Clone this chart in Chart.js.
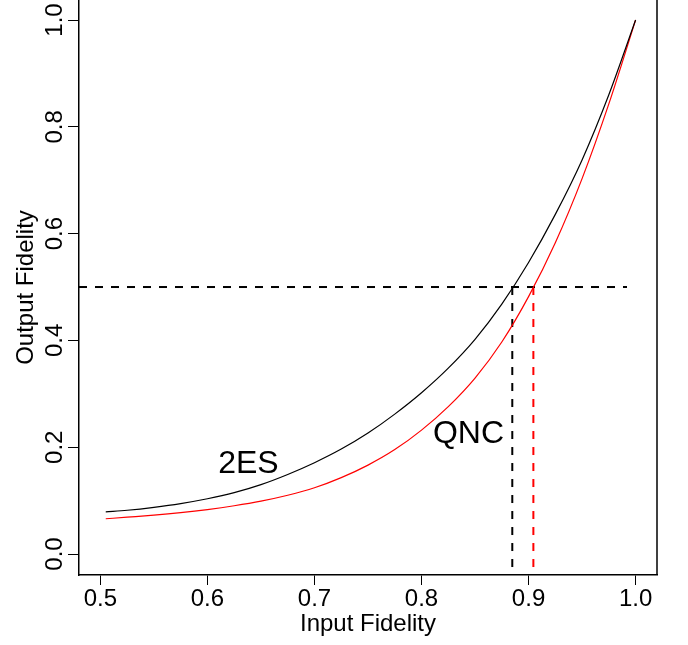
<!DOCTYPE html>
<html>
<head>
<meta charset="utf-8">
<script src="https://cdn.jsdelivr.net/npm/chart.js@4/dist/chart.umd.min.js"></script>
<style>
  html, body { margin: 0; padding: 0; background: #fff; }
  #wrap { position: relative; width: 688px; height: 645px; }
</style>
</head>
<body>
<div id="wrap"><canvas id="fidelityChart" width="688" height="645"></canvas></div>
<script>
// -----------------------------------------
// DATA
// -----------------------------------------
const inputFid = [0.505, 0.525, 0.55, 0.575, 0.6, 0.625, 0.65, 0.675, 0.7, 0.725, 0.75,
                  0.775, 0.8, 0.825, 0.85, 0.875, 0.9, 0.925, 0.95, 0.975, 1.0];
const out2ES   = [0.079, 0.082, 0.0875, 0.0945, 0.1035, 0.115, 0.130, 0.149, 0.171, 0.1965, 0.2266,
                  0.262, 0.302, 0.348, 0.402, 0.468, 0.546, 0.636, 0.738, 0.860, 1.0];
const outQNC   = [0.066, 0.069, 0.0728, 0.0775, 0.0833, 0.0904, 0.099, 0.110, 0.124, 0.143, 0.1665,
                  0.1955, 0.232, 0.276, 0.3295, 0.397, 0.482, 0.583, 0.703, 0.843, 1.0];

// threshold guides
const thresholdY   = 0.5;
const thresholdX   = [0.48, 0.992];
const cross2ES     = 0.8848;
const crossQNC     = 0.9045;

const xTicks = [0.5, 0.6, 0.7, 0.8, 0.9, 1.0];
const yTicks = [0.0, 0.2, 0.4, 0.6, 0.8, 1.0];

const curveLabels = [
  { text: '2ES', x: 0.6383, y: 0.1517 },
  { text: 'QNC', x: 0.8439, y: 0.2079 }
];

const FONT = '"Liberation Sans", Arial, Helvetica, sans-serif';

// -----------------------------------------
// helpers
// -----------------------------------------
const toPts = (xs, ys) => xs.map((x, i) => ({ x, y: ys[i] }));

// -----------------------------------------
// PLUGIN: box, rotated y labels, axis titles, curve labels
// -----------------------------------------
const rStylePlugin = {
  id: 'rStyle',
  afterDraw(chart) {
    const { ctx, chartArea, scales } = chart;
    const xs = scales.x, ys = scales.y;
    ctx.save();

    // right edge of the box
    ctx.strokeStyle = '#000';
    ctx.lineWidth = 1.5;
    ctx.beginPath();
    ctx.moveTo(chartArea.right, chartArea.top);
    ctx.lineTo(chartArea.right, chartArea.bottom);
    ctx.stroke();

    ctx.fillStyle = '#000';

    // y tick labels, parallel to the axis
    ctx.font = '24px ' + FONT;
    ctx.textAlign = 'center';
    ctx.textBaseline = 'alphabetic';
    yTicks.forEach(v => {
      ctx.save();
      ctx.translate(62, ys.getPixelForValue(v));
      ctx.rotate(-Math.PI / 2);
      ctx.fillText(v.toFixed(1), 0, 0);
      ctx.restore();
    });

    // axis titles
    ctx.fillText('Input Fidelity', (chartArea.left + chartArea.right) / 2, 631);
    ctx.save();
    ctx.translate(33, (chartArea.top + chartArea.bottom) / 2);
    ctx.rotate(-Math.PI / 2);
    ctx.fillText('Output Fidelity', 0, 0);
    ctx.restore();

    // curve labels
    ctx.font = '32px ' + FONT;
    curveLabels.forEach(l => {
      ctx.fillText(l.text, xs.getPixelForValue(l.x), ys.getPixelForValue(l.y));
    });

    ctx.restore();
  }
};

// -----------------------------------------
// CHART
// -----------------------------------------
const dashStyle = { borderWidth: 2, borderDash: [8, 8], pointRadius: 0, fill: false };

new Chart(document.getElementById('fidelityChart'), {
  type: 'line',
  data: {
    datasets: [
      {
        label: '2ES',
        data: toPts(inputFid, out2ES),
        borderColor: '#000',
        borderWidth: 1.2,
        pointRadius: 0,
        cubicInterpolationMode: 'monotone'
      },
      {
        label: 'QNC',
        data: toPts(inputFid, outQNC),
        borderColor: '#ff0000',
        borderWidth: 1.2,
        pointRadius: 0,
        cubicInterpolationMode: 'monotone'
      },
      Object.assign({
        label: 'threshold',
        data: [{ x: thresholdX[0], y: thresholdY }, { x: thresholdX[1], y: thresholdY }],
        borderColor: '#000'
      }, dashStyle),
      Object.assign({
        label: '2ES cross',
        data: [{ x: cross2ES, y: thresholdY }, { x: cross2ES, y: -0.04 }],
        borderColor: '#000'
      }, dashStyle),
      Object.assign({
        label: 'QNC cross',
        data: [{ x: crossQNC, y: thresholdY }, { x: crossQNC, y: -0.04 }],
        borderColor: '#ff0000'
      }, dashStyle)
    ]
  },
  options: {
    responsive: false,
    animation: false,
    layout: { padding: { top: 0, right: 31, bottom: 0, left: 0 } },
    plugins: {
      legend: { display: false },
      tooltip: { enabled: false }
    },
    scales: {
      x: {
        type: 'linear',
        min: 0.48,
        max: 1.02,
        afterBuildTicks: axis => { axis.ticks = xTicks.map(v => ({ value: v })); },
        afterFit: axis => { axis.height = 70; },
        border: { display: true, color: '#000', width: 1.5 },
        grid: { drawOnChartArea: false, drawTicks: true, tickLength: 10, color: '#000', lineWidth: 1 },
        ticks: {
          padding: 0,
          color: '#000',
          font: { family: FONT, size: 24 },
          callback: v => v.toFixed(1)
        }
      },
      y: {
        type: 'linear',
        min: -0.0393,
        max: 1.0375,
        afterBuildTicks: axis => { axis.ticks = yTicks.map(v => ({ value: v })); },
        afterFit: axis => { axis.width = 79; },
        border: { display: true, color: '#000', width: 1.5 },
        grid: { drawOnChartArea: false, drawTicks: true, tickLength: 11, color: '#000', lineWidth: 1 },
        ticks: { display: false }
      }
    }
  },
  plugins: [rStylePlugin]
});
</script>
</body>
</html>
